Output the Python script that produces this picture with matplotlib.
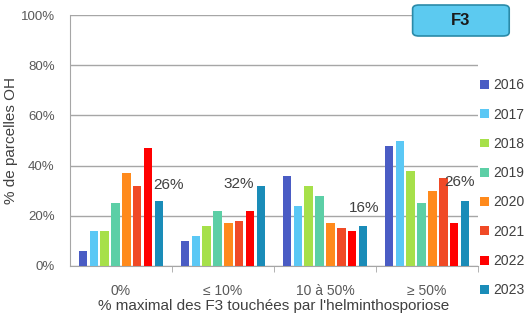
import numpy as np
import matplotlib.pyplot as plt
from matplotlib.patches import FancyBboxPatch

# données
categories = ["0%", "≤ 10%", "10 à 50%", "≥ 50%"]
years = ["2016", "2017", "2018", "2019", "2020", "2021", "2022", "2023"]
v2016 = [6, 10, 36, 48]
v2017 = [14, 12, 24, 50]
v2018 = [14, 16, 32, 38]
v2019 = [25, 22, 28, 25]
v2020 = [37, 17, 17, 30]
v2021 = [32, 18, 15, 35]
v2022 = [47, 22, 14, 17]
v2023 = [26, 32, 16, 26]
colors = ["#4a5cc4", "#5bc8f5", "#a6e04a", "#5ccfa6", "#ff8a1c",
          "#f04a26", "#ff0000", "#1a8cb8"]

series = [v2016, v2017, v2018, v2019, v2020, v2021, v2022, v2023]

plt.rcParams["font.family"] = ["Liberation Sans", "DejaVu Sans"]

fig = plt.figure(figsize=(5.29, 3.13), dpi=100)
ax = fig.add_axes([0.1323, 0.1502, 0.7713, 0.8018])

x = np.arange(len(categories))
slot = 0.107
width = 0.081
for i, (vals, c) in enumerate(zip(series, colors)):
    ax.bar(x + (i - 3.5) * slot, vals, width, color=c, label=years[i], zorder=3)

# étiquettes 2023
offsets = [(7, 6), (-16, -3.5), (0.5, 8), (-4, 8.5)]
for xi, v, off in zip(x, v2023, offsets):
    ax.annotate(f"{v}%", (xi + 3.5 * slot, v), xytext=off, textcoords="offset points",
                ha="center", va="bottom", fontsize=11, color="#404040")

ax.set_xlim(-0.5, 3.5)
ax.set_ylim(0, 100)
ax.set_yticks(range(0, 101, 20))
ax.set_yticklabels([f"{t}%" for t in range(0, 101, 20)], fontsize=9.5, color="#595959")
ax.yaxis.grid(True, color="#a6a6a6", linewidth=1, zorder=0)
ax.tick_params(axis="y", length=0, pad=11)

ax.set_xticks(x)
ax.set_xticklabels(categories, fontsize=10, color="#595959")
ax.set_xticks(np.arange(0.5, 4, 1), minor=True)
ax.tick_params(axis="x", which="major", length=0, pad=13)
ax.tick_params(axis="x", which="minor", length=4, color="#a6a6a6")

for s in ["top", "right"]:
    ax.spines[s].set_visible(False)
for s in ["left", "bottom"]:
    ax.spines[s].set_color("#a6a6a6")

ax.set_ylabel("% de parcelles OH", fontsize=11, color="#404040", labelpad=2)
ax.set_xlabel("% maximal des F3 touchées par l'helminthosporiose", fontsize=11,
              color="#404040", labelpad=1)

fig.legend(loc="center left", bbox_to_anchor=(0.908, 0.40), frameon=False,
           fontsize=10, handlelength=0.6, handleheight=0.6, handletextpad=0.3,
           labelspacing=1.1, borderpad=0, borderaxespad=0, labelcolor="#404040")

box = FancyBboxPatch((0.780, 0.885), 0.1826, 0.099, boxstyle="round,pad=0,rounding_size=0.012",
                     transform=fig.transFigure, facecolor="#5ccaf0", edgecolor="#2a8aa8",
                     linewidth=1.2, zorder=5)
fig.patches.append(box)
fig.text(0.8713, 0.936, "F3", ha="center", va="center", fontsize=12, fontweight="bold",
         color="#1a1a1a", zorder=6)

fig.savefig("out.png", dpi=100)
